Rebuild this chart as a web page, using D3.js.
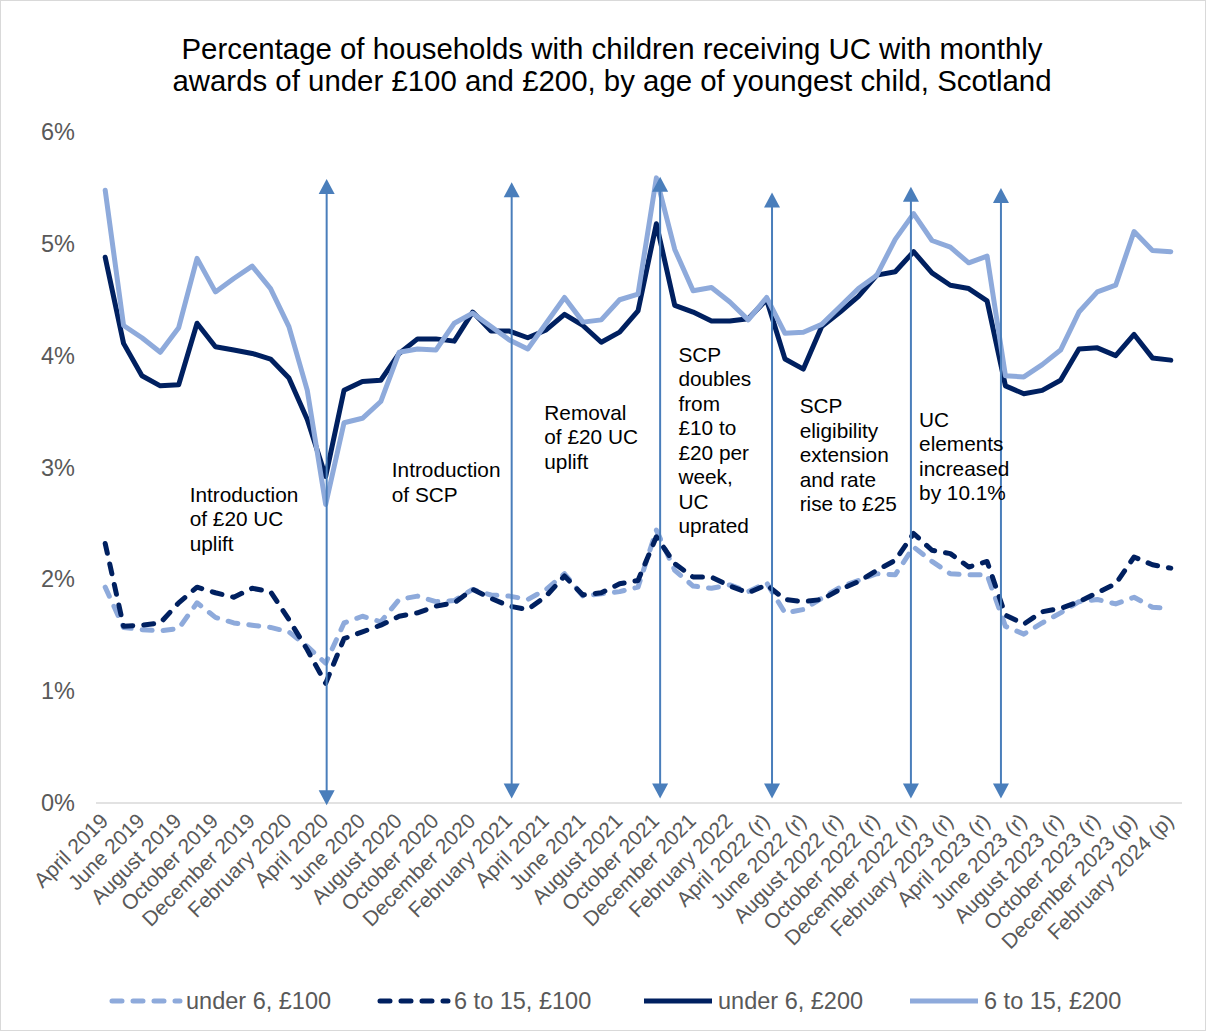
<!DOCTYPE html>
<html>
<head>
<meta charset="utf-8">
<script src="https://cdn.jsdelivr.net/npm/d3@7"></script>
<style>
  html, body { margin: 0; padding: 0; background: #fff; }
  svg { display: block; font-family: "Liberation Sans", Arial, sans-serif; }
</style>
</head>
<body>
<svg id="chart" width="1206" height="1031"></svg>
<script>
// Monthly categories, April 2019 to February 2024
const months = [
  "April 2019", "May 2019", "June 2019", "July 2019", "August 2019", "September 2019",
  "October 2019", "November 2019", "December 2019", "January 2020", "February 2020", "March 2020",
  "April 2020", "May 2020", "June 2020", "July 2020", "August 2020", "September 2020",
  "October 2020", "November 2020", "December 2020", "January 2021", "February 2021", "March 2021",
  "April 2021", "May 2021", "June 2021", "July 2021", "August 2021", "September 2021",
  "October 2021", "November 2021", "December 2021", "January 2022", "February 2022", "March 2022",
  "April 2022 (r)", "May 2022 (r)", "June 2022 (r)", "July 2022 (r)", "August 2022 (r)", "September 2022 (r)",
  "October 2022 (r)", "November 2022 (r)", "December 2022 (r)", "January 2023 (r)", "February 2023 (r)", "March 2023 (r)",
  "April 2023 (r)", "May 2023 (r)", "June 2023 (r)", "July 2023 (r)", "August 2023 (r)", "September 2023 (r)",
  "October 2023 (r)", "November 2023 (r)", "December 2023 (p)", "January 2024 (p)", "February 2024 (p)"
];

// Percentage of households, by age of youngest child and award threshold
const under6_100 = [
  1.93, 1.57, 1.55, 1.54, 1.56, 1.79, 1.66, 1.61, 1.59, 1.57,
  1.53, 1.40, 1.25, 1.61, 1.67, 1.62, 1.82, 1.85, 1.80, 1.81,
  1.91, 1.86, 1.85, 1.82, 1.91, 2.05, 1.85, 1.87, 1.89, 1.93,
  2.44, 2.08, 1.94, 1.92, 1.95, 1.89, 1.97, 1.70, 1.73, 1.83,
  1.93, 1.99, 2.05, 2.04, 2.29, 2.16, 2.05, 2.04, 2.04, 1.58,
  1.51, 1.61, 1.70, 1.80, 1.82, 1.78, 1.84, 1.75, 1.74
];
const age6to15_100 = [
  2.32, 1.58, 1.59, 1.61, 1.79, 1.93, 1.88, 1.84, 1.92, 1.89,
  1.64, 1.37, 1.07, 1.47, 1.53, 1.59, 1.67, 1.70, 1.76, 1.79,
  1.91, 1.83, 1.76, 1.73, 1.85, 2.03, 1.86, 1.88, 1.96, 1.99,
  2.38, 2.14, 2.02, 2.02, 1.94, 1.88, 1.95, 1.82, 1.80, 1.82,
  1.91, 1.98, 2.08, 2.17, 2.41, 2.26, 2.23, 2.11, 2.16, 1.68,
  1.60, 1.71, 1.74, 1.80, 1.88, 1.96, 2.20, 2.13, 2.10
];
const under6_200 = [
  4.88, 4.11, 3.82, 3.73, 3.74, 4.29, 4.08, 4.05, 4.02, 3.97,
  3.80, 3.43, 2.92, 3.69, 3.77, 3.78, 4.02, 4.15, 4.15, 4.13,
  4.39, 4.22, 4.22, 4.16, 4.23, 4.37, 4.27, 4.12, 4.21, 4.40,
  5.18, 4.45, 4.39, 4.31, 4.31, 4.33, 4.50, 3.97, 3.88, 4.26,
  4.39, 4.53, 4.72, 4.75, 4.93, 4.74, 4.63, 4.60, 4.49, 3.73,
  3.66, 3.69, 3.78, 4.06, 4.07, 4.00, 4.19, 3.98, 3.96
];
const age6to15_200 = [
  5.48, 4.27, 4.16, 4.03, 4.25, 4.87, 4.57, 4.69, 4.80, 4.60,
  4.26, 3.69, 2.67, 3.40, 3.44, 3.59, 4.03, 4.06, 4.05, 4.29,
  4.38, 4.26, 4.14, 4.06, 4.29, 4.52, 4.30, 4.32, 4.50, 4.55,
  5.59, 4.95, 4.58, 4.61, 4.48, 4.32, 4.52, 4.20, 4.21, 4.28,
  4.44, 4.60, 4.72, 5.04, 5.27, 5.03, 4.97, 4.83, 4.89, 3.82,
  3.81, 3.92, 4.05, 4.39, 4.57, 4.63, 5.11, 4.94, 4.93
];

const seriesNames = ["under 6, £100", "6 to 15, £100", "under 6, £200", "6 to 15, £200"];
const yTicks = [0, 1, 2, 3, 4, 5, 6];

// Policy events: month the arrow marks, and the note beside it
const eventMonths = ["April 2020", "February 2021", "October 2021", "April 2022 (r)", "December 2022 (r)", "April 2023 (r)"];
const eventNotes = [
  ["Introduction", "of £20 UC", "uplift"],
  ["Introduction", "of SCP"],
  ["Removal", "of £20 UC", "uplift"],
  ["SCP", "doubles", "from", "£10 to", "£20 per", "week,", "UC", "uprated"],
  ["SCP", "eligibility", "extension", "and rate", "rise to £25"],
  ["UC", "elements", "increased", "by 10.1%"]
];

const LIGHT = "#8eaadb";
const DARK = "#002060";
const ARROW = "#4a7ebb";
const GREY_TEXT = "#595959";

const series = [
  { name: seriesNames[0], values: under6_100, color: LIGHT, dashed: true },
  { name: seriesNames[1], values: age6to15_100, color: DARK, dashed: true },
  { name: seriesNames[2], values: under6_200, color: DARK, dashed: false },
  { name: seriesNames[3], values: age6to15_200, color: LIGHT, dashed: false }
];

const svg = d3.select("#chart");
const W = 1206, H = 1031;
const plot = { left: 96, right: 1180, top: 132, bottom: 803 };

// Outer frame
svg.append("rect")
  .attr("x", 0.5).attr("y", 0.5).attr("width", W - 1).attr("height", H - 1)
  .attr("fill", "#fff").attr("stroke", "#d9d9d9");

// Title
const title = svg.append("text")
  .attr("x", 612).attr("y", 59)
  .attr("text-anchor", "middle")
  .attr("font-size", 29.4).attr("fill", "#000");
title.append("tspan").attr("x", 612).text("Percentage of households with children receiving UC with monthly");
title.append("tspan").attr("x", 612).attr("dy", 32).text("awards of under £100 and £200, by age of youngest child, Scotland");

// Scales
const xBand = d3.scaleBand().domain(months).range([plot.left, plot.right]).paddingInner(0).paddingOuter(0);
const bw = xBand.bandwidth();
const x = m => xBand(m) + bw / 2;
const y = d3.scaleLinear().domain([0, 6]).range([plot.bottom, plot.top]);

// Y axis labels (no gridlines)
const yAxis = d3.axisLeft(y).tickValues(yTicks).tickFormat(d => d + "%").tickSize(0).tickPadding(0);
const yg = svg.append("g").attr("transform", `translate(${plot.left - 21},0)`).call(yAxis);
yg.select(".domain").remove();
yg.selectAll("text").attr("font-size", 23.5).attr("fill", GREY_TEXT)
  .attr("font-family", "Liberation Sans, Arial, sans-serif");

// X axis baseline and rotated category labels (every second month)
const xAxis = d3.axisBottom(xBand).tickValues(months.filter((m, i) => i % 2 === 0)).tickSize(0).tickPadding(0);
const xg = svg.append("g").attr("transform", `translate(0,${plot.bottom})`).call(xAxis);
xg.select(".domain").attr("stroke", "#d9d9d9").attr("stroke-width", 1.5)
  .attr("d", `M${plot.left},0H${plot.right + 2}`);
xg.selectAll(".tick text")
  .attr("font-size", 21).attr("fill", GREY_TEXT)
  .attr("font-family", "Liberation Sans, Arial, sans-serif")
  .attr("text-anchor", "end")
  .attr("dy", "0.35em")
  .attr("y", 0)
  .attr("transform", "translate(-1,14) rotate(-45)");

// Series lines
const line = d3.line().x((d, i) => x(months[i])).y(d => y(d));
const lines = svg.append("g");
series.forEach(s => {
  lines.append("path")
    .datum(s.values)
    .attr("d", line)
    .attr("fill", "none")
    .attr("stroke", s.color)
    .attr("stroke-width", 5)
    .attr("stroke-linejoin", "round")
    .attr("stroke-linecap", "round")
    .attr("stroke-dasharray", s.dashed ? "10,11" : null);
});

// Event arrows: double-headed, from the axis up to above the lines
const arrowShift = [0, 0.07, 0.15, 0.24, -0.2, 0.7];
const arrowTop = [5.58, 5.55, 5.6, 5.46, 5.51, 5.5];
const arrowBottom = [-0.02, 0.04, 0.04, 0.04, 0.04, 0.04];
const headW = 16, headH = 15;
const arrows = svg.append("g");
eventMonths.forEach((m, k) => {
  const ax = x(m) + arrowShift[k] * bw + 1;
  const yT = y(arrowTop[k]), yB = y(arrowBottom[k]);
  arrows.append("line")
    .attr("x1", ax).attr("x2", ax)
    .attr("y1", yT + headH - 1).attr("y2", yB - headH + 1)
    .attr("stroke", ARROW).attr("stroke-width", 2);
  arrows.append("path")
    .attr("d", `M${ax},${yT}L${ax + headW / 2},${yT + headH}L${ax - headW / 2},${yT + headH}Z`)
    .attr("fill", ARROW);
  arrows.append("path")
    .attr("d", `M${ax},${yB}L${ax + headW / 2},${yB - headH}L${ax - headW / 2},${yB - headH}Z`)
    .attr("fill", ARROW);
});

// Notes beside each arrow: left edge in category units, first line in % units
const noteX = [4.6, 15.6, 23.9, 31.2, 37.8, 44.3];
const noteY = [2.76, 2.98, 3.49, 4.01, 3.55, 3.43];
const notes = svg.append("g").attr("font-size", 20.8).attr("fill", "#000");
eventNotes.forEach((ls, k) => {
  const tx = plot.left + bw / 2 + noteX[k] * bw;
  const t = notes.append("text").attr("x", tx).attr("y", y(noteY[k])).attr("dy", "0.35em");
  ls.forEach((s, j) => {
    t.append("tspan").attr("x", tx).attr("dy", j === 0 ? "0.35em" : 24.5).text(s);
  });
});

// Legend
const legendX = [110, 378, 642, 908];
const legendY = 1001;
const legend = svg.append("g");
series.forEach((s, k) => {
  const lx = legendX[k];
  legend.append("line")
    .attr("x1", lx + 2).attr("x2", lx + 70)
    .attr("y1", legendY).attr("y2", legendY)
    .attr("stroke", s.color).attr("stroke-width", 5)
    .attr("stroke-linecap", s.dashed ? "round" : "butt")
    .attr("stroke-dasharray", s.dashed ? "10,11" : null);
  legend.append("text")
    .attr("x", lx + 76).attr("y", legendY).attr("dy", "0.35em")
    .attr("font-size", 23.5).attr("fill", GREY_TEXT)
    .text(s.name);
});
</script>
</body>
</html>
